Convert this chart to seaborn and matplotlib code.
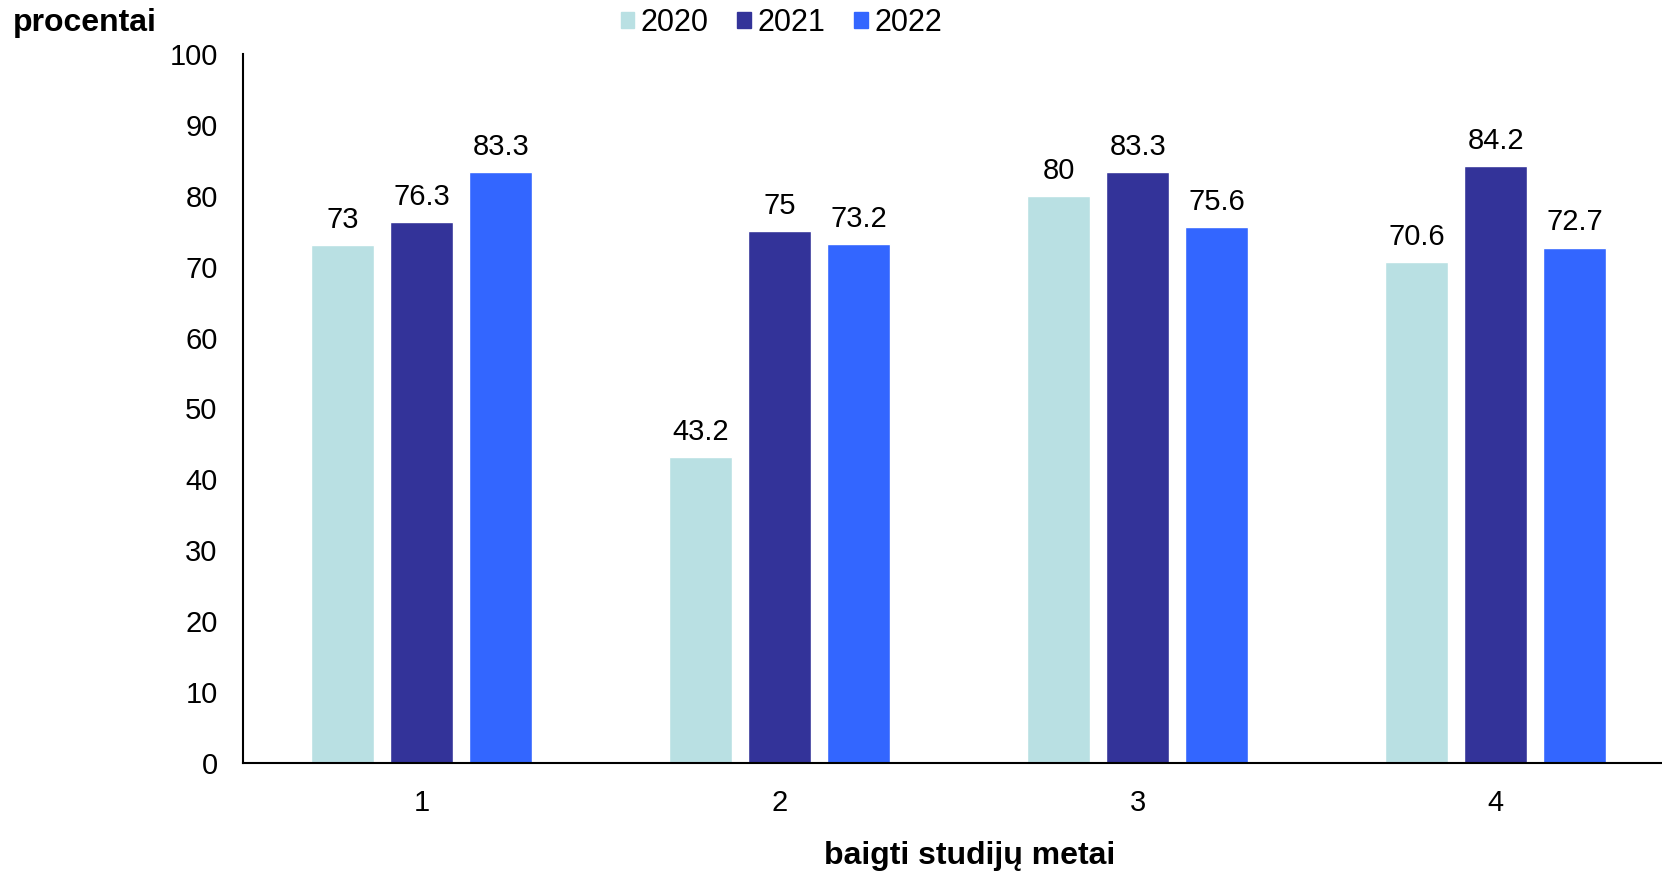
import pandas as pd
import matplotlib.pyplot as plt
import seaborn as sns
from matplotlib.patches import Patch

# values
categories = ["1", "2", "3", "4"]
years = ["2020", "2021", "2022"]
v2020 = [73, 43.2, 80, 70.6]
v2021 = [76.3, 75, 83.3, 84.2]
v2022 = [83.3, 73.2, 75.6, 72.7]
colors = ["#B9E0E3", "#333399", "#3366FF"]

df = pd.DataFrame({
    "metai": categories * 3,
    "metai_grupe": [y for y in years for _ in categories],
    "procentai": v2020 + v2021 + v2022,
})

sns.set_style("white")
plt.rcParams["font.family"] = ["Liberation Sans", "DejaVu Sans"]
plt.rcParams["text.color"] = "black"

fig = plt.figure(figsize=(16.62, 8.71), dpi=100)
# axes runs a bit past the right edge of the figure, like the original
ax = fig.add_axes([0.146, 0.124, 0.8616, 0.814])

sns.barplot(data=df, x="metai", y="procentai", hue="metai_grupe",
            palette=colors, width=0.662, gap=0.2, saturation=1,
            legend=False, ax=ax)

for cont in ax.containers:
    ax.bar_label(cont, labels=[f"{v:g}" for v in cont.datavalues],
                 padding=8, fontsize=21, color="black")

ax.set_ylim(0, 100)
ax.set_yticks(range(0, 101, 10))
ax.set_xlim(-0.5, 3.5)
ax.tick_params(axis="both", length=0, labelsize=21, colors="black")
ax.tick_params(axis="y", pad=18)
ax.tick_params(axis="x", pad=19)
ax.set_ylabel("")
ax.set_xlabel("baigti studijų metai", fontsize=23, fontweight="bold",
              color="black")
ax.xaxis.set_label_coords(0.508, -0.11)

for s in ["top", "right"]:
    ax.spines[s].set_visible(False)
for s in ["left", "bottom"]:
    ax.spines[s].set_color("black")
    ax.spines[s].set_linewidth(1.5)

fig.text(0.008, 0.974, "procentai", fontsize=23, fontweight="bold",
         va="center", ha="left")

handles = [Patch(color=c, label=y) for c, y in zip(colors, years)]
fig.legend(handles=handles, loc="center", bbox_to_anchor=(0.47, 0.974), ncol=3,
           frameon=False, fontsize=22, handlelength=0.45, handleheight=0.45,
           handletextpad=0.2, columnspacing=0.95)

fig.savefig("out.png", dpi=100)
